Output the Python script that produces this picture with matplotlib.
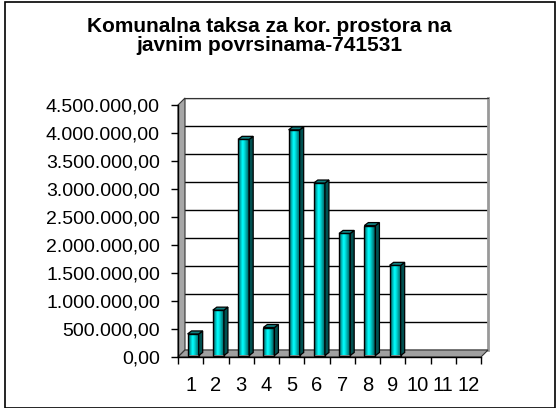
import numpy as np
import matplotlib
matplotlib.use("Agg")
import matplotlib.pyplot as plt
from matplotlib.patches import Polygon, Rectangle
from matplotlib.colors import LinearSegmentedColormap
from matplotlib.transforms import ScaledTranslation

categories = [str(i) for i in range(1, 13)]
values = [385000, 810000, 3860000, 500000, 4030000, 3080000, 2180000, 2320000, 1610000, 0, 0, 0]
yticks = [0, 500000, 1000000, 1500000, 2000000, 2500000, 3000000, 3500000, 4000000, 4500000]
title = "Komunalna taksa za kor. prostora na\njavnim povrsinama-741531"

def fmt(v):
    s = f"{v:,.2f}"
    return s.replace(",", "X").replace(".", ",").replace("X", ".")

W, H = 557, 408
DPI = 100
plt.rcParams['font.family'] = ['Liberation Sans', 'DejaVu Sans']
fig = plt.figure(figsize=(W / DPI, H / DPI), dpi=DPI)
fig.patch.set_facecolor('white')

def px_rect(x0, y0, x1, y1):
    return [x0 / W, (H - y1) / H, (x1 - x0) / W, (y1 - y0) / H]

DX, DY = 7, 7  # depth offset in pixels (right, up)
FX0, FY0, FX1, FY1 = 178, 105, 481, 357

# back wall axes
axb = fig.add_axes(px_rect(FX0 + DX, FY0 - DY, FX1 + DX, FY1 - DY), zorder=0)
axb.set_xlim(0.5, 12.5)
axb.set_ylim(0, 4500000)
axb.set_yticks(yticks)
axb.set_xticks([])
axb.tick_params(left=False, labelleft=False)
axb.yaxis.grid(True, color='black', linewidth=1.0)
axb.set_axisbelow(True)
for s in ['left', 'bottom']:
    axb.spines[s].set_visible(False)
axb.spines['top'].set_color('#333333')
axb.spines['right'].set_color('#999999')
axb.spines['right'].set_linewidth(2)

# front axes (ticks and labels)
ax = fig.add_axes(px_rect(FX0, FY0, FX1, FY1), zorder=2)
ax.patch.set_alpha(0)
ax.set_xlim(0.5, 12.5)
ax.set_ylim(0, 4500000)
ax.set_yticks(yticks)
ax.set_yticklabels([fmt(v) for v in yticks], fontsize=14)
ax.set_xticks(np.arange(0.5, 13, 1), minor=False)
ax.set_xticklabels([])
ax.set_xticks(np.arange(1, 13), minor=True)
ax.set_xticklabels(categories, minor=True, fontsize=14.5)
ax.tick_params(axis='x', which='minor', length=0, pad=14)
ax.tick_params(axis='x', which='major', length=5, direction='out', width=1)
ax.tick_params(axis='y', length=5, direction='out', width=1, pad=8)
for s in ['top', 'right', 'left', 'bottom']:
    ax.spines[s].set_visible(False)

fig.canvas.draw()
T = ax.transData

def disp(x, y, dx=0, dy=0):
    p = T.transform((x, y))
    return (p[0] + dx, p[1] + dy)

# side wall and floor
side = Polygon([disp(0.5, 0), disp(0.5, 4500000), disp(0.5, 4500000, DX, DY), disp(0.5, 0, DX, DY)],
               closed=True, transform=None, facecolor='#a6a6a6', edgecolor='#333333', lw=0.8, zorder=1)
floor = Polygon([disp(0.5, 0), disp(12.5, 0), disp(12.5, 0, DX, DY), disp(0.5, 0, DX, DY)],
                closed=True, transform=None, facecolor='#a0a0a0', edgecolor='#333333', lw=0.8, zorder=1)
fig.add_artist(side)
fig.add_artist(floor)
fig.add_artist(plt.Line2D([disp(0.5, 0)[0]] * 2, [disp(0.5, 0)[1], disp(0.5, 4500000)[1]],
                          transform=None, color='black', lw=1, zorder=3))
fig.add_artist(plt.Line2D([disp(0.5, 0)[0], disp(12.5, 0)[0]], [disp(0.5, 0)[1]] * 2,
                          transform=None, color='black', lw=1, zorder=3))

# bars
cmap = LinearSegmentedColormap.from_list('cy', [(0, '#005a5a'), (0.38, '#00ffff'), (0.5, '#00e8e8'), (1.0, '#004040')])
grad = np.linspace(0, 1, 64).reshape(1, -1)
BW = 0.44
SX, SY = 2.5, 1.5
BDX, BDY = 4, 3
for i, v in enumerate(values):
    if v <= 0:
        continue
    x = i + 1
    l, r = x - BW / 2, x + BW / 2
    p0 = disp(l, 0, SX, SY)
    p1 = disp(r, v, SX, SY)
    rect = Rectangle((p0[0], p0[1]), p1[0] - p0[0], p1[1] - p0[1], transform=None,
                     facecolor='none', edgecolor='black', lw=1.0, zorder=6)
    ii = ax.imshow(grad, aspect='auto', cmap=cmap, zorder=5, extent=(l, r, 0, v))
    ii.set_transform(ax.transData + ScaledTranslation(SX / DPI, SY / DPI, fig.dpi_scale_trans))
    ii.set_clip_path(rect)
    fig.add_artist(rect)
    sp = Polygon([disp(r, 0, SX, SY), disp(r, v, SX, SY), disp(r, v, SX + BDX, SY + BDY), disp(r, 0, SX + BDX, SY + BDY)],
                 closed=True, transform=None, facecolor='#005050', edgecolor='black', lw=0.9, zorder=6)
    tp = Polygon([disp(l, v, SX, SY), disp(r, v, SX, SY), disp(r, v, SX + BDX, SY + BDY), disp(l, v, SX + BDX, SY + BDY)],
                 closed=True, transform=None, facecolor='#107f7f', edgecolor='black', lw=0.9, zorder=6)
    fig.add_artist(sp)
    fig.add_artist(tp)

fig.text(269 / W, 1 - 36 / H, title, ha='center', va='center', fontsize=15,
         fontweight='bold', linespacing=1.0)

border = Rectangle((5 / W, 0.5 / H), 550 / W, (406 - 0.5) / H, transform=fig.transFigure,
                   facecolor='none', edgecolor='black', lw=1.2, zorder=10)
fig.add_artist(border)

fig.savefig('out.png', dpi=DPI, facecolor='white')
